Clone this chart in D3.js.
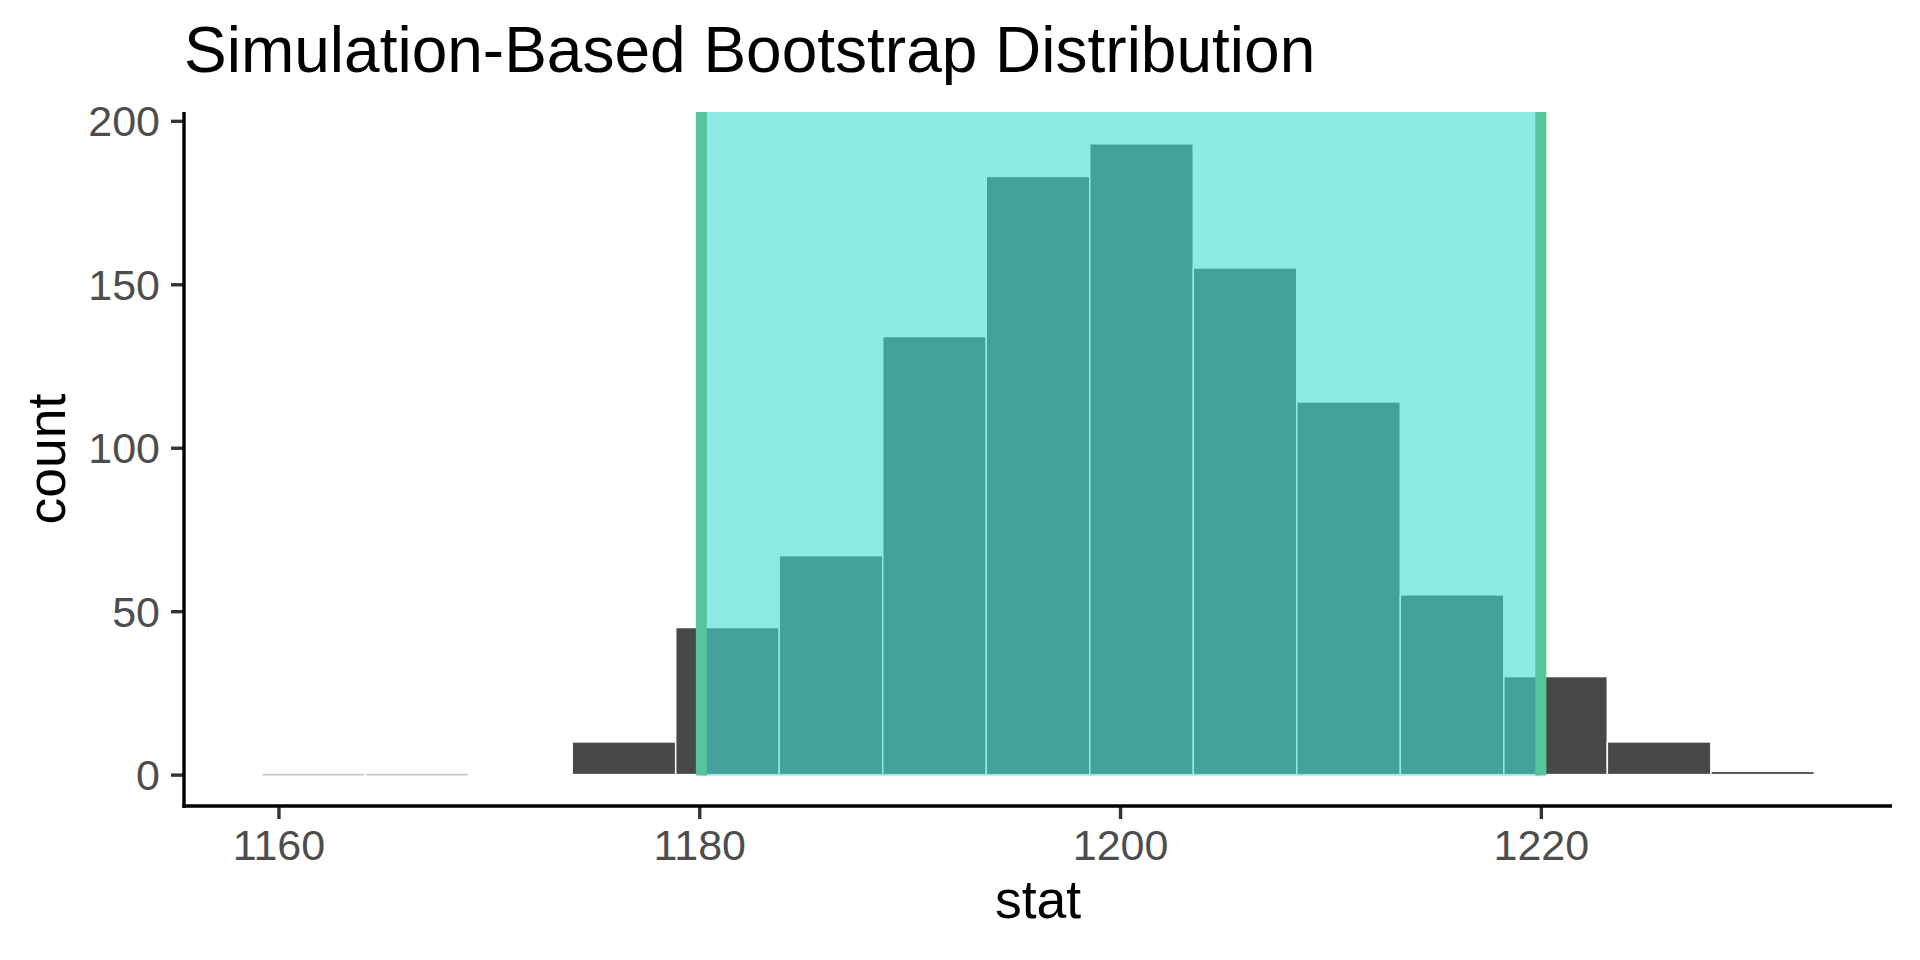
<!DOCTYPE html>
<html>
<head>
<meta charset="utf-8">
<script src="https://cdn.jsdelivr.net/npm/d3@7"></script>
<style>
  html, body { margin: 0; padding: 0; background: #ffffff; }
  svg { display: block; }
  text { font-family: "Liberation Sans", Arial, Helvetica, sans-serif; }
</style>
</head>
<body>
<svg id="chart" width="1920" height="960"></svg>
<script>
// ---- data ----
const binEdges = [1159.20, 1164.12, 1169.04, 1173.96, 1178.88, 1183.80, 1188.72, 1193.64,
                  1198.56, 1203.48, 1208.40, 1213.32, 1218.24, 1223.16, 1228.08, 1233.00];
const counts = [0, 0, null, 10, 45, 67, 134, 183, 193, 155, 114, 55, 30, 10, 1];
const ciBounds = [1180.1, 1220.0];
const xTicks = [1160, 1180, 1200, 1220];
const yTicks = [0, 50, 100, 150, 200];
const titleText = "Simulation-Based Bootstrap Distribution";
const xLabel = "stat";
const yLabel = "count";

// ---- layout ----
const panel = { left: 184, right: 1892, top: 112, bottom: 806 };

const svg = d3.select("#chart");

const xMin = binEdges[0], xMax = binEdges[binEdges.length - 1];
const xPad = (xMax - xMin) * 0.05;
const x = d3.scaleLinear()
  .domain([xMin - xPad, xMax + xPad])
  .range([panel.left, panel.right]);
const y = d3.scaleLinear()
  .domain([-9.6, 202.7])
  .range([panel.bottom, panel.top]);

const bins = counts.map((c, i) => ({ x0: binEdges[i], x1: binEdges[i + 1], count: c }));

// bars
const gBars = svg.append("g");
gBars.selectAll("rect.bar")
  .data(bins.filter(d => d.count !== null && d.count > 0))
  .join("rect")
  .attr("class", "bar")
  .attr("x", d => x(d.x0))
  .attr("width", d => x(d.x1) - x(d.x0))
  .attr("y", d => y(d.count))
  .attr("height", d => y(0) - y(d.count))
  .attr("fill", "#484848")
  .attr("stroke", "#ffffff")
  .attr("stroke-width", 1.5);

// zero-count bins (drawn as faint lines)
gBars.selectAll("line.zero")
  .data(bins.filter(d => d.count === 0))
  .join("line")
  .attr("class", "zero")
  .attr("x1", d => x(d.x0) + 1)
  .attr("x2", d => x(d.x1) - 1)
  .attr("y1", y(0))
  .attr("y2", y(0))
  .attr("stroke", "#c9c9c9")
  .attr("stroke-width", 1.6);

// CI shading
svg.append("rect")
  .attr("x", x(ciBounds[0]))
  .attr("width", x(ciBounds[1]) - x(ciBounds[0]))
  .attr("y", panel.top)
  .attr("height", y(0) - panel.top + 1)
  .attr("fill", "#40E0D0")
  .attr("fill-opacity", 0.6);

// CI lines
svg.selectAll("line.ci")
  .data(ciBounds)
  .join("line")
  .attr("class", "ci")
  .attr("x1", d => x(d)).attr("x2", d => x(d))
  .attr("y1", panel.top).attr("y2", y(0) + 1)
  .attr("stroke", "#56C59B")
  .attr("stroke-width", 11);

// axes
const xAxis = d3.axisBottom(x).tickValues(xTicks).tickFormat(d3.format("d"))
  .tickSize(13).tickPadding(10);
const gx = svg.append("g")
  .attr("transform", `translate(0,${panel.bottom})`)
  .call(xAxis);
gx.select(".domain").remove();
gx.selectAll(".tick line").attr("stroke", "#333333").attr("stroke-width", 3.4);
gx.selectAll(".tick text")
  .attr("fill", "#4D4D4D")
  .attr("font-size", 43)
  .attr("dy", "0.71em");
gx.append("line")
  .attr("x1", panel.left - 1.7).attr("x2", panel.right)
  .attr("y1", 0).attr("y2", 0)
  .attr("stroke", "#000000").attr("stroke-width", 3.4);

const yAxis = d3.axisLeft(y).tickValues(yTicks).tickFormat(d3.format("d"))
  .tickSize(13).tickPadding(11);
const gy = svg.append("g")
  .attr("transform", `translate(${panel.left},0)`)
  .call(yAxis);
gy.select(".domain").remove();
gy.selectAll(".tick line").attr("stroke", "#333333").attr("stroke-width", 3.4);
gy.selectAll(".tick text")
  .attr("fill", "#4D4D4D")
  .attr("font-size", 43)
  .attr("dy", "0.35em");
gy.append("line")
  .attr("x1", 0).attr("x2", 0)
  .attr("y1", panel.top).attr("y2", panel.bottom + 1.7)
  .attr("stroke", "#000000").attr("stroke-width", 3.4);

// titles
svg.append("text")
  .attr("x", panel.left)
  .attr("y", 72)
  .attr("font-size", 64)
  .attr("fill", "#000000")
  .text(titleText);

svg.append("text")
  .attr("x", (panel.left + panel.right) / 2)
  .attr("y", 918)
  .attr("text-anchor", "middle")
  .attr("font-size", 53.5)
  .attr("fill", "#000000")
  .text(xLabel);

svg.append("text")
  .attr("transform", `translate(65,${(panel.top + panel.bottom) / 2}) rotate(-90)`)
  .attr("text-anchor", "middle")
  .attr("font-size", 53.5)
  .attr("fill", "#000000")
  .text(yLabel);
</script>
</body>
</html>
